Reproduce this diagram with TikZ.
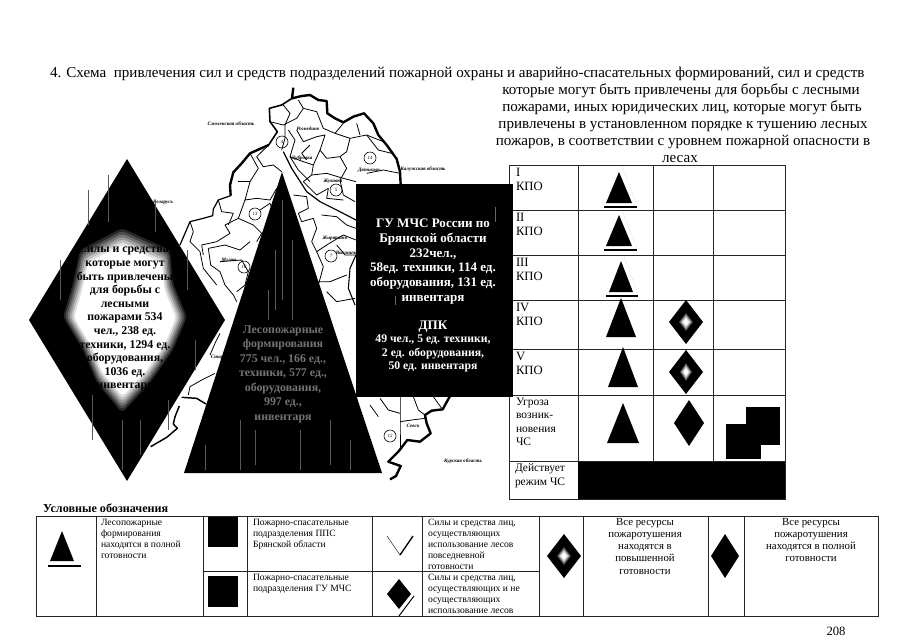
\documentclass[tikz,border=0pt]{standalone}
\usepackage{fontspec}
\setmainfont{Liberation Serif}
\tikzset{
  txt/.style={inner sep=0pt,outer sep=0pt,text depth=0pt},
  titletxt/.style={txt,font=\fontsize{11.3}{12.9}\selectfont},
  rowtxt/.style={txt,anchor=north west,align=left,font=\fontsize{9.5}{11}\selectfont},
  legtxt/.style={txt,anchor=north west,align=left,font=\fontsize{7.2}{8.3}\selectfont},
  legctr/.style={txt,anchor=north,align=center,font=\fontsize{8.1}{9.2}\selectfont},
  maplbl/.style={txt,font=\fontsize{3.8}{4}\selectfont\itshape\bfseries},
  mapnum/.style={circle,draw=black,line width=0.45pt,inner sep=0pt,minimum size=9pt,font=\fontsize{3.6}{4}\selectfont\itshape},
  grid/.style={draw=black!85,line width=0.75pt},
  river/.style={draw=black,line width=0.6pt,line join=round},
  border/.style={draw=black,line width=1.8pt,line join=round},
  streak/.style={draw=black!65,line width=0.3pt},
  hint/.style={draw=black!35,line width=0.3pt,densely dotted}
}
\newcommand{\tria}[4]{\fill[black] (#1,#2) -- (#3,#4) -- ({2*#1-#3},#4) -- cycle;}
\newcommand{\diam}[4]{\fill[black] ({#1-#3},#2) -- (#1,{#2-#4}) -- ({#1+#3},#2) -- (#1,{#2+#4}) -- cycle;}
\newcommand{\glows}[4]{\foreach \s/\g in {1/30,0.8/60,0.6/85,0.4/100}{\fill[white!\g!black] ({#1-#3*\s},#2) -- (#1,{#2-#4*\s}) -- ({#1+#3*\s},#2) -- (#1,{#2+#4*\s}) -- cycle;}}
\begin{document}
\begin{tikzpicture}[x=0.75pt,y=-0.75pt]
\useasboundingbox (0,0) rectangle (905,640);
\fill[white] (0,0) rectangle (905,640);

% ---------- map (coordinates of a 3x view of the sheet) ----------
\begin{scope}[shift={(170,85)},x=0.25pt,y=-0.25pt]
\draw[border] (370,8) -- (366,40) -- (395,33) -- (420,30) -- (445,45) -- (470,48) -- (472,85) -- (495,100) -- (520,112) -- (550,95) -- (582,85) -- (610,115) -- (625,150) -- (650,180) -- (680,222) -- (690,260) -- (692,300);
\draw[border,line width=1.2pt] (366,40) -- (335,60) -- (298,70) -- (300,110) -- (322,140) -- (296,180);
\draw[border] (296,180) -- (240,205) -- (215,235) -- (190,262) -- (180,300) -- (182,332);
\draw[border,line width=0.9pt] (182,332) -- (145,345) -- (130,372) -- (128,392) -- (100,400) -- (60,410) -- (30,480);
\draw[river,line width=0.9pt] (340,200) -- (365,250) -- (410,320) -- (450,350) -- (500,375) -- (558,405);
\draw[river] (300,110) -- (340,120) -- (380,100) -- (400,70) -- (440,80) -- (460,130) -- (495,145) -- (520,115);
\draw[river] (340,60) -- (360,85) -- (345,120) -- (345,160) -- (335,195);
\draw[river] (380,135) -- (400,170) -- (440,155) -- (465,150) -- (450,195) -- (430,240) -- (425,270) -- (400,290);
\draw[river] (495,145) -- (540,160) -- (590,150) -- (640,170);
\draw[river] (540,160) -- (530,200) -- (510,215) -- (470,220) -- (450,195);
\draw[river] (360,215) -- (400,230) -- (430,240);
\draw[river] (425,270) -- (470,265) -- (520,280) -- (558,290);
\draw[river] (400,290) -- (440,330) -- (475,310);
\draw[river] (510,215) -- (530,250) -- (510,285) -- (520,330) -- (555,350);
\draw[river] (296,180) -- (260,215) -- (280,245) -- (310,240) -- (335,260);
\draw[river] (240,205) -- (265,250) -- (240,290) -- (225,345) -- (260,340) -- (300,345) -- (320,310);
\draw[river] (225,345) -- (205,400) -- (250,420) -- (275,445) -- (260,470);
\draw[river] (205,400) -- (165,420) -- (180,445) -- (140,470) -- (95,480) -- (100,510);
\draw[river] (145,345) -- (155,380) -- (190,385) -- (175,420);
\draw[river] (115,490) -- (165,480) -- (210,495) -- (240,470);
\draw[river] (115,490) -- (122,540) -- (150,560) -- (165,600) -- (190,630) -- (200,650);
\draw[river] (150,530) -- (215,525) -- (235,560) -- (225,600) -- (200,620);
\draw[river] (60,410) -- (70,440) -- (60,470) -- (90,500) -- (100,550) -- (140,600);
\draw[river] (370,330) -- (410,335) -- (415,370) -- (385,385) -- (395,410);
\draw[river] (395,410) -- (430,400) -- (440,430) -- (425,470) -- (440,500) -- (470,480) -- (520,450) -- (558,465);
\draw[river] (455,390) -- (500,395) -- (530,420) -- (558,430);
\draw[river] (440,500) -- (460,545) -- (445,600);
\draw[river] (500,480) -- (525,510) -- (558,510);
\draw[river,line width=0.8pt] (558,510) -- (540,550) -- (535,610) -- (555,660);
\draw[river] (430,590) -- (480,590) -- (530,570);
\draw[river] (470,620) -- (500,650) -- (555,640);
\draw[river] (355,135) -- (375,165) -- (360,215) -- (385,255) -- (420,290);
\draw[river] (400,70) -- (385,45);
\draw[river] (420,180) -- (395,205) -- (410,225);
\draw[river] (560,115) -- (570,150);
\draw[river] (590,150) -- (625,195) -- (665,205);
\draw[river] (590,265) -- (640,255) -- (690,265);
\draw[river] (475,310) -- (470,340) -- (520,345);
\draw[river] (205,290) -- (240,290);
\draw[river] (270,375) -- (300,355) -- (310,380);
\end{scope}
\begin{scope}[shift={(130,300)},x=0.25pt,y=-0.25pt]
\draw[river] (270,100) -- (255,130) -- (240,165);
\draw[river] (255,220) -- (215,240) -- (180,260) -- (175,285);
\draw[border,line width=1.1pt] (155,292) -- (200,295) -- (228,312);
\draw[border,line width=1.1pt] (148,318) -- (135,350) -- (130,372) -- (142,385) -- (110,412) -- (62,440);
\end{scope}
\begin{scope}[shift={(370,390)},x=0.25pt,y=-0.25pt]
\draw[border] (240,18) -- (218,58) -- (185,62) -- (165,75) -- (170,100) -- (182,130) -- (150,155) -- (112,150) -- (85,185) -- (55,215) -- (92,228) -- (78,258) -- (60,268);
\draw[river] (90,20) -- (90,95) -- (90,175);
\draw[river] (90,95) -- (125,90) -- (165,85);
\draw[river] (130,20) -- (145,60) -- (165,75);
\draw[river] (190,20) -- (215,55);
\draw[river] (30,25) -- (55,60) -- (90,70);
\draw[river] (0,45) -- (25,80);
\end{scope}

\node[maplbl] (lsmol) at (231,124) {Смоленская область};
\node[maplbl] (lkal) at (423,169) {Калужская область};
\node[maplbl] (lbel) at (163,202) {Беларусь};
\node[maplbl] (lkur) at (463,461) {Курская область};
\node[maplbl] (lrog) at (308,129) {Рогнедино};
\node[maplbl] (ldub) at (302,158) {Дубровка};
\node[maplbl] (ldyat) at (369,170) {Дятьково};
\node[maplbl] (lzhuk) at (333,181) {Жуковка};
\node[maplbl] (lzhir) at (335,238) {Жирятино};
\node[maplbl] (lvyg) at (347,253) {Выгоничи};
\node[maplbl] (lsev) at (413,426) {Севск};
\node[maplbl] (lmgl) at (229,260) {Мглин};
\node[maplbl] (lstar) at (222,357) {Стародуб};
\node[mapnum] (n14) at (370,158) {14};
\node[mapnum] (n5) at (336,190) {5};
\node[mapnum] (n13) at (255,214) {13};
\node[mapnum] (n7) at (331,256) {7};
\node[mapnum] (n16) at (244,267) {16};
\node[mapnum] (n12) at (390,436) {12};
\node[mapnum] (n4) at (282,142) {4};

% ---------- big left diamond ----------
\diam{127}{320}{98}{161}
\foreach \s/\g in {1.0/15,0.97/30,0.94/45,0.91/60,0.88/75,0.85/88,0.82/100}{
  \fill[white!\g!black,shift={(125,320)},scale=\s,rounded corners=3pt] (-3,-92) -- (-45,-70) -- (-52,-37) -- (-62,-3) -- (-42,30) -- (-28,63) -- (-3,93) -- (25,63) -- (48,30) -- (62,-3) -- (48,-37) -- (45,-70) -- cycle;
}
\foreach \x/\a/\b in {60/260/300,88/190/225,92/395/440,108/175/222,122/420/470,140/420/455,155/200/232,168/400/430,187/250/290,195/340/370}{\draw[streak] (\x,\a) -- (\x,\b);}
\node[txt,align=center,font=\fontsize{8.9}{10.2}\selectfont\bfseries] (dtext) at (125,317) {Силы и средства,\\которые могут\\быть привлечены\\для борьбы с\\лесными\\пожарами 534\\чел., 238 ед.\\техники, 1294 ед.\\оборудования,\\1036 ед.\\инвентаря};

% ---------- central triangle ----------
\fill[black] (282,172) -- (382,473) -- (184,473) -- cycle;
\foreach \x/\a/\b in {282/200/300,275/250/310,292/240/320,268/290/320,240/420/470,205/445/470,330/420/465,300/430/470,350/440/470,255/430/465}{\draw[streak] (\x,\a) -- (\x,\b);}
\node[txt,align=center,text=black!55,font=\fontsize{8.9}{10.9}\selectfont\bfseries] (ttext) at (283,373) {Лесопожарные\\формирования\\775 чел., 166 ед.,\\техники, 577 ед.,\\оборудования,\\997 ед.,\\инвентаря};

% ---------- black text box ----------
\fill[black] (356,184) rectangle (513,397);
\draw[streak,draw=black!60] (395,296) -- (395,305);
\draw[streak,draw=black!60] (495,207) -- (495,222);
\node[txt,align=center,text=white,font=\fontsize{9.8}{11}\selectfont\bfseries] (rtext1) at (433,260) {ГУ МЧС России по\\Брянской области\\232чел.,\\58ед. техники, 114 ед.\\оборудования, 131 ед.\\инвентаря};
\node[txt,align=center,text=white,font=\fontsize{8.8}{10.1}\selectfont\bfseries] (rtext2) at (433,345) {{\fontsize{9.8}{10.1}\selectfont ДПК}\\49 чел., 5 ед. техники,\\2 ед. оборудования,\\50 ед. инвентаря};

% ---------- heading ----------
\node[titletxt,anchor=base west] (t1) at (50,77) {4. Схема \ привлечения сил и средств подразделений пожарной охраны и аварийно-спасательных формирований, сил и средств};
\node[titletxt,anchor=base] (t2) at (681,94) {которые могут быть привлечены для борьбы с лесными};
\node[titletxt,anchor=base] (t3) at (682,111) {пожарами, иных юридических лиц, которые могут быть};
\node[titletxt,anchor=base] (t4) at (683,128) {привлечены в установленном порядке к тушению лесных};
\node[titletxt,anchor=base] (t5) at (683,145) {пожаров, в соответствии с уровнем пожарной опасности в};
\node[titletxt,anchor=base] (t6) at (680,162) {лесах};

% ---------- levels table ----------
\fill[black] (578,461) rectangle (785,499);
\draw[grid] (509,165) rectangle (785,499);
\foreach \y in {210,255,300,349,395,461}{\draw[grid] (509,\y) -- (785,\y);}
\draw[grid] (578,165) -- (578,461);
\draw[grid] (653,165) -- (653,461);
\draw[grid] (713,165) -- (713,461);
\fill[black] (509,184) rectangle (513,397);

\node[rowtxt] (r1) at (516,168) {I\\КПО};
\node[rowtxt] (r2) at (516,213) {II\\КПО};
\node[rowtxt] (r3) at (516,258) {III\\КПО};
\node[rowtxt] (r4) at (516,303) {IV\\КПО};
\node[rowtxt] (r5) at (516,352) {V\\КПО};
\node[rowtxt,font=\fontsize{8.6}{10}\selectfont] (r6) at (516,398) {Угроза\\возник-\\новения\\ЧС};
\node[rowtxt,font=\fontsize{8.6}{10.4}\selectfont] (r7) at (515,464) {Действует\\режим ЧС};

\tria{619}{172}{632}{203}
\draw[black,line width=0.8pt] (604,207) -- (637,207);
\draw[hint] (622,166) -- (636,203);
\tria{619}{215}{632}{246}
\draw[black,line width=1.1pt] (604,250) -- (637,250);
\draw[hint] (622,210) -- (637,248);
\tria{621}{261}{633}{292}
\draw[black,line width=0.9pt] (606,296) -- (638,296);
\draw[hint] (624,257) -- (638,294);
\tria{621}{298}{636}{337}
\tria{623}{347}{638}{387}
\tria{623}{403}{639}{443}
\diam{686}{322}{17}{22}
\glows{686}{322}{7}{9}
\diam{686}{372}{17}{22}
\glows{686}{372}{6}{9}
\diam{689}{423}{15}{23}
\fill[black] (746,407) rectangle (780,445);
\fill[black] (726,424) rectangle (761,459);

% ---------- legend ----------
\node[txt,anchor=base west,font=\fontsize{9.1}{11}\selectfont\bfseries] (lhead) at (43,512) {Условные обозначения};
\draw[grid] (36,516) rectangle (878,616);
\foreach \x in {96,203,247,372,422,539,583,708,744}{\draw[grid] (\x,516) -- (\x,616);}
\draw[grid] (203,571) -- (539,571);

\tria{62}{531}{74}{561}
\draw[black,line width=0.9pt] (48,566) -- (81,566);
\fill[black] (208,517) rectangle (238,547);
\fill[black] (208,576) rectangle (238,607);
\draw[black,line width=0.3pt] (387,536) -- (400,555);
\draw[black,line width=1pt] (400,555) -- (413,536);
\diam{399}{594}{12}{15}
\draw[black,line width=0.7pt] (414,596) -- (399,616);
\diam{564}{556}{17}{22}
\glows{564}{556}{7}{9}
\diam{725}{556}{14}{22}

\node[legtxt] (l1) at (101,519) {Лесопожарные\\формирования\\находятся в полной\\готовности};
\node[legtxt] (l2) at (253,519) {Пожарно-спасательные\\подразделения ППС\\Брянской области};
\node[legtxt] (l3) at (253,574) {Пожарно-спасательные\\подразделения ГУ МЧС};
\node[legtxt] (l4) at (428,519) {Силы и средства лиц,\\осуществляющих\\использование лесов\\повседневной\\готовности};
\node[legtxt] (l5) at (428,574) {Силы и средства лиц,\\осуществляющих и не\\осуществляющих\\использование лесов};
\node[legctr] (l6) at (645,518) {Все ресурсы\\пожаротушения\\находятся в\\повышенной\\готовности};
\node[legctr] (l7) at (811,518) {Все ресурсы\\пожаротушения\\находятся в полной\\готовности};
\node[txt,anchor=base,font=\fontsize{9.5}{11}\selectfont] (page) at (836,635) {208};
\end{tikzpicture}
\end{document}
